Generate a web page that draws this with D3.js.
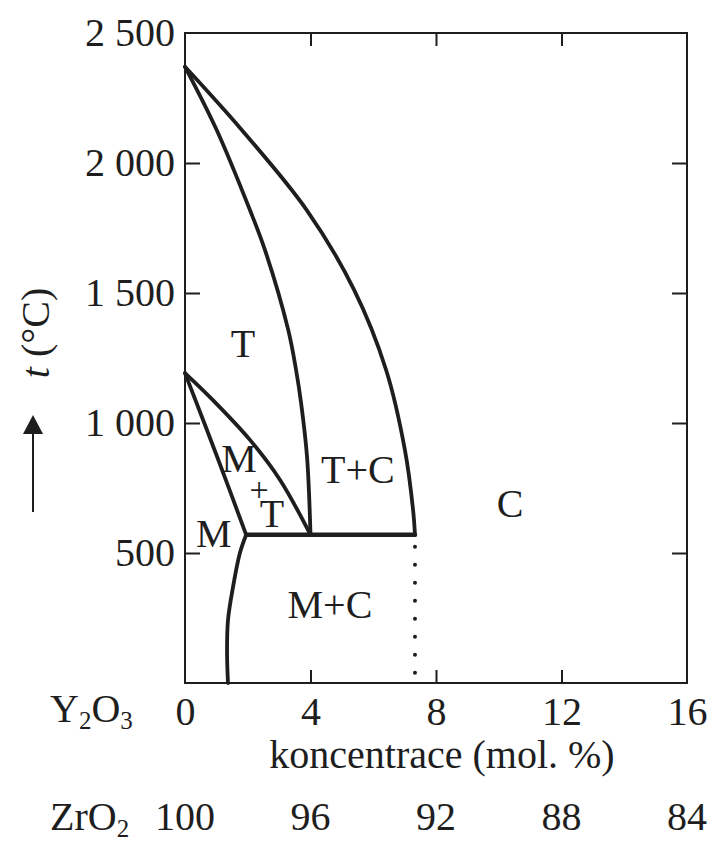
<!DOCTYPE html>
<html>
<head>
<meta charset="utf-8">
<script src="https://cdn.jsdelivr.net/npm/d3@7"></script>
<style>
  body { margin: 0; background: #fff; }
  svg text { font-family: 'Liberation Serif', 'Times New Roman', serif; fill: #1e1e1e; }
</style>
</head>
<body>
<svg id="chart" width="712" height="842"></svg>
<script>

// phase boundaries as [mol. % Y2O3, t in °C]
const tTcBoundary = [[0, 2370], [1.01, 2127], [2.07, 1819], [2.55, 1665], [3.29, 1358], [3.54, 1204], [3.70, 1077], [3.89, 869], [4.0, 570]];
const tcCBoundary = [[0, 2370], [1.81, 2127], [3.88, 1819], [5.39, 1512], [6.41, 1204], [7.01, 896], [7.27, 665], [7.33, 570]];
const mtTBoundary = [[0, 1192], [0.89, 1088], [2.07, 935], [3.03, 781], [4.0, 570]];
const mMtBoundary = [[0, 1192], [1.0, 878], [1.95, 570]];
const mMcBoundary = [[1.95, 570], [1.75, 500], [1.53, 369], [1.37, 242], [1.34, 115], [1.37, 0]];
const eutectoid = [[1.95, 570], [7.33, 570]];
const cubicLimit = [[7.33, 570], [7.33, 0]];

const phaseLabels = [
  { text: 'T',   c: 1.85,  t: 1254 },
  { text: 'M',   c: 0.92,  t: 523 },
  { text: 'M',   c: 1.72,  t: 812 },
  { text: '+',   c: 2.36,  t: 700 },
  { text: 'T',   c: 2.77,  t: 600 },
  { text: 'T+C', c: 5.51,  t: 769 },
  { text: 'M+C', c: 4.62,  t: 250 },
  { text: 'C',   c: 10.36, t: 638 }
];

const xTicks = [0, 4, 8, 12, 16];
const zrO2Labels = [100, 96, 92, 88, 84];
const yTicks = [500, 1000, 1500, 2000, 2500];

const FONT = 40;
const INK = '#1e1e1e';

const svg = d3.select('#chart');

const x = d3.scaleLinear().domain([0, 16]).range([185, 687]);
const y = d3.scaleLinear().domain([0, 2500]).range([683, 33]);

const fmt = d3.formatLocale({ decimal: ',', thousands: ' ', grouping: [3], currency: ['', ''] }).format(',');

const styleAxis = (g) => {
  g.select('.domain').remove();
  g.attr('font-size', FONT).attr('font-family', null);
  g.selectAll('line').attr('stroke', INK).attr('stroke-width', 2);
  g.selectAll('text').attr('fill', INK);
};

// axes, ticks pointing inward
svg.append('g')
  .attr('transform', `translate(${x(0)},0)`)
  .call(d3.axisLeft(y).tickValues(yTicks).tickSizeInner(-15).tickSizeOuter(0).tickPadding(10).tickFormat(fmt))
  .call(styleAxis)
  .call((g) => g.selectAll('.tick').filter((d) => d === 2500).select('line').remove());

svg.append('g')
  .attr('transform', `translate(${x(16)},0)`)
  .call(d3.axisRight(y).tickValues(yTicks.slice(0, -1)).tickSizeInner(-15).tickSizeOuter(0).tickFormat(''))
  .call(styleAxis);

svg.append('g')
  .attr('transform', `translate(0,${y(0)})`)
  .call(d3.axisBottom(x).tickValues(xTicks).tickSizeInner(-13).tickSizeOuter(0).tickPadding(14))
  .call(styleAxis)
  .call((g) => g.selectAll('.tick').filter((d) => d === 0 || d === 16).select('line').remove());

svg.append('g')
  .attr('transform', `translate(0,${y(2500)})`)
  .call(d3.axisTop(x).tickValues(xTicks.slice(1, -1)).tickSizeInner(-13).tickSizeOuter(0).tickFormat(''))
  .call(styleAxis);

// frame
svg.append('rect')
  .attr('x', x(0))
  .attr('y', y(2500))
  .attr('width', x(16) - x(0))
  .attr('height', y(0) - y(2500))
  .attr('fill', 'none')
  .attr('stroke', INK)
  .attr('stroke-width', 2);

// ZrO2 scale under the Y2O3 one
svg.append('g')
  .selectAll('text')
  .data(zrO2Labels)
  .enter().append('text')
    .attr('x', (d, i) => x(xTicks[i]))
    .attr('y', 830)
    .attr('text-anchor', 'middle')
    .attr('font-size', FONT)
    .text((d) => d);

// chemical formula with subscripts
const compound = (parts, px, py) => {
  const t = svg.append('text')
    .attr('x', px)
    .attr('y', py)
    .attr('font-size', FONT);
  let shift = 0;
  parts.forEach(([s, sub]) => {
    const target = sub ? 7 : 0;
    t.append('tspan')
      .attr('font-size', sub ? 25 : FONT)
      .attr('dy', target - shift)
      .text(s);
    shift = target;
  });
};

compound([['Y'], ['2', true], ['O'], ['3', true]], 50, 722);
compound([['ZrO'], ['2', true]], 50, 830);

svg.append('text')
  .attr('x', 442)
  .attr('y', 768)
  .attr('text-anchor', 'middle')
  .attr('font-size', FONT)
  .text('koncentrace (mol. %)');

// y title with arrow
const yTitle = svg.append('text')
  .attr('transform', 'translate(49,333) rotate(-90)')
  .attr('text-anchor', 'middle')
  .attr('font-size', FONT);
yTitle.append('tspan').attr('font-style', 'italic').text('t');
yTitle.append('tspan').text(' (°C)');

svg.append('line')
  .attr('x1', 33).attr('x2', 33)
  .attr('y1', 512).attr('y2', 430)
  .attr('stroke', INK)
  .attr('stroke-width', 2);
svg.append('path')
  .attr('d', 'M33,415 L43,434 L23,434 Z')
  .attr('fill', INK);

// phase boundaries
const line = d3.line()
  .x((d) => x(d[0]))
  .y((d) => y(d[1]))
  .curve(d3.curveCatmullRom.alpha(0.5));

const straight = d3.line()
  .x((d) => x(d[0]))
  .y((d) => y(d[1]));

const boundaries = svg.append('g')
  .attr('fill', 'none')
  .attr('stroke', INK)
  .attr('stroke-linecap', 'round')
  .attr('stroke-linejoin', 'round');

boundaries.selectAll('path.boundary')
  .data([tTcBoundary, tcCBoundary, mtTBoundary, mMtBoundary, mMcBoundary])
  .enter().append('path')
    .classed('boundary', true)
    .attr('stroke-width', 3.8)
    .attr('d', line);

boundaries.append('path')
  .attr('stroke-width', 4.5)
  .attr('d', straight(eutectoid));

boundaries.append('path')
  .attr('stroke-width', 4)
  .attr('stroke-dasharray', '0 18')
  .attr('stroke-dashoffset', 6)
  .attr('d', straight(cubicLimit));

// phase field names
svg.append('g')
  .selectAll('text')
  .data(phaseLabels)
  .enter().append('text')
    .attr('x', (d) => x(d.c))
    .attr('y', (d) => y(d.t))
    .attr('text-anchor', 'middle')
    .attr('font-size', (d) => d.text === '+' ? 34 : FONT)
    .text((d) => d.text);

</script>
</body>
</html>
